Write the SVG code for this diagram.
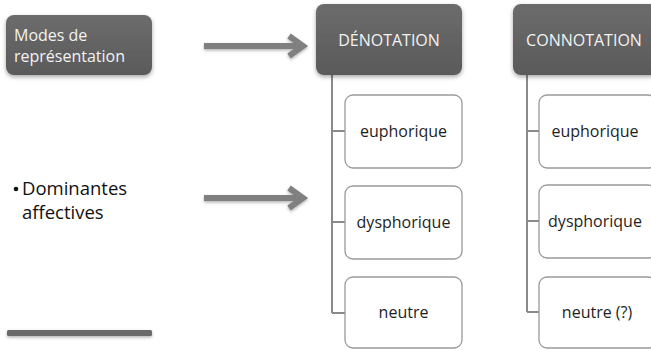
<svg xmlns="http://www.w3.org/2000/svg" width="651" height="350" viewBox="0 0 651 350">
  <defs>
    <linearGradient id="hdr" x1="0" y1="0" x2="0" y2="1">
      <stop offset="0" stop-color="#6c6c6c"/>
      <stop offset="1" stop-color="#5a5a5a"/>
    </linearGradient>
    <filter id="sh" x="-10%" y="-10%" width="120%" height="130%">
      <feDropShadow dx="0" dy="2" stdDeviation="2" flood-color="#000" flood-opacity="0.35"/>
    </filter>
    <filter id="sh2" x="-10%" y="-50%" width="120%" height="250%">
      <feDropShadow dx="0" dy="1.5" stdDeviation="1.5" flood-color="#000" flood-opacity="0.3"/>
    </filter>
  </defs>
  <style>
    .hdr { fill: url(#hdr); filter: url(#sh); }
    .hdrt { font-family: "Open Sans", "Noto Sans", sans-serif; font-size: 16px; fill: #f2f2f2; }
    .child { fill: #ffffff; stroke: #9a9a9a; stroke-width: 1.3; }
    .ct { font-family: "Open Sans", "Noto Sans", sans-serif; font-size: 16px; fill: #1e1e1e; text-anchor: middle; }
    .conn { fill: none; stroke: #8a8a8a; stroke-width: 2; }
    .arrow { fill: none; stroke: #808080; stroke-width: 6; filter: url(#sh2); }
    .lt { font-family: "Open Sans", "Noto Sans", sans-serif; font-size: 18.5px; fill: #111; }
  </style>
  <rect width="651" height="350" fill="#ffffff"/>

  <g id="connectors">
    <path class="conn" d="M332,75 V313 M332,131 H345 M332,222 H345 M332,313 H345"/>
    <path class="conn" d="M527,75 V312 M527,131 H539 M527,221 H539 M527,312 H539"/>
    <g id="arrow1">
      <path class="arrow" d="M204,46 H302 M289,36 L303,46 L289,56"/>
    </g>
    <g id="arrow2">
      <path class="arrow" d="M204,198 H302 M289,188 L303,198 L289,208"/>
    </g>
  </g>

  <g id="modes">
    <rect class="hdr" x="6" y="15" width="146" height="60" rx="8"/>
    <text class="hdrt" x="14" y="41">Modes de</text>
    <text class="hdrt" x="14" y="62">représentation</text>
  </g>

  <g id="dominantes">
    <circle cx="16" cy="189" r="2.3" fill="#111"/>
    <text class="lt" x="22" y="195">Dominantes</text>
    <text class="lt" x="22" y="219">affectives</text>
  </g>

  <g id="bar">
    <rect x="7" y="330" width="145" height="6" rx="1.5" fill="#6a6a6a" filter="url(#sh2)"/>
  </g>

  <g id="denotation">
    <rect class="hdr" x="316" y="4" width="146" height="71" rx="8"/>
    <text class="hdrt" x="389" y="46" text-anchor="middle">DÉNOTATION</text>
  </g>
  <g id="den-euph">
    <rect class="child" x="345" y="95" width="117" height="73" rx="8"/>
    <text class="ct" x="403.5" y="137">euphorique</text>
  </g>
  <g id="den-dysph">
    <rect class="child" x="345" y="186" width="117" height="73" rx="8"/>
    <text class="ct" x="403.5" y="228">dysphorique</text>
  </g>
  <g id="den-neutre">
    <rect class="child" x="345" y="277" width="117" height="71" rx="8"/>
    <text class="ct" x="403.5" y="318">neutre</text>
  </g>

  <g id="connotation">
    <rect class="hdr" x="513" y="4" width="146" height="71" rx="8"/>
    <text class="hdrt" x="584" y="46" text-anchor="middle">CONNOTATION</text>
  </g>
  <g id="con-euph">
    <rect class="child" x="539" y="95" width="117" height="73" rx="8"/>
    <text class="ct" x="595" y="137">euphorique</text>
  </g>
  <g id="con-dysph">
    <rect class="child" x="539" y="185" width="117" height="73" rx="8"/>
    <text class="ct" x="595" y="227">dysphorique</text>
  </g>
  <g id="con-neutre">
    <rect class="child" x="539" y="277" width="117" height="71" rx="8"/>
    <text class="ct" x="597" y="318">neutre (?)</text>
  </g>
</svg>
